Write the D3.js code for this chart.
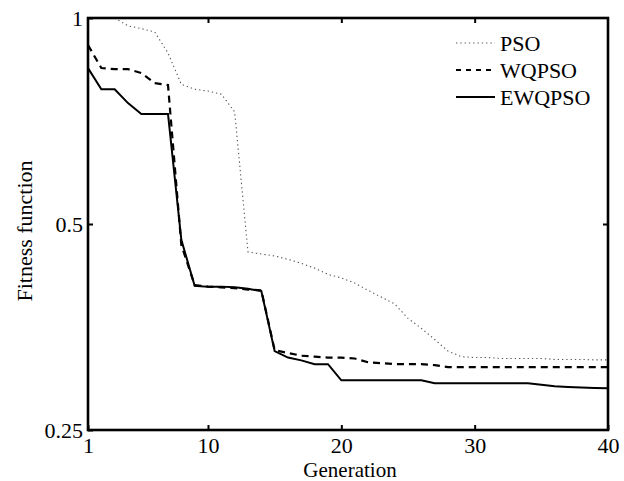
<!DOCTYPE html>
<html>
<head>
<meta charset="utf-8">
<script src="https://cdn.jsdelivr.net/npm/d3@7"></script>
<style>
  html, body { margin: 0; padding: 0; background: #fff; }
  svg { display: block; }
  text { font-family: "Liberation Serif", "DejaVu Serif", serif; fill: #000; }
</style>
</head>
<body>
<svg id="chart" width="624" height="481"></svg>
<script>
// ---- data ----
const generations = [1,2,3,4,5,6,7,8,9,10,11,12,13,14,15,16,17,18,19,20,
                     21,22,23,24,25,26,27,28,29,30,31,32,33,34,35,36,37,38,39,40];
const psoValues = [1.12, 1.06, 1.0, 0.974, 0.965, 0.954, 0.889, 0.800, 0.787, 0.782,
                   0.774, 0.729, 0.455, 0.452, 0.449, 0.444, 0.438, 0.431, 0.422, 0.417,
                   0.410, 0.400, 0.391, 0.382, 0.364, 0.352, 0.339, 0.326, 0.320, 0.319,
                   0.319, 0.318, 0.318, 0.318, 0.318, 0.317, 0.317, 0.317, 0.3165, 0.3165];
const wqpsoValues = [0.913, 0.845, 0.842, 0.842, 0.831, 0.803, 0.798, 0.466, 0.407, 0.405,
                     0.404, 0.403, 0.401, 0.400, 0.327, 0.324, 0.321, 0.320, 0.319, 0.319,
                     0.318, 0.314, 0.313, 0.312, 0.312, 0.312, 0.311, 0.309, 0.309, 0.309,
                     0.309, 0.309, 0.309, 0.309, 0.309, 0.309, 0.309, 0.309, 0.309, 0.309];
const ewqpsoValues = [0.845, 0.787, 0.787, 0.751, 0.724, 0.724, 0.724, 0.474, 0.406, 0.405,
                      0.405, 0.404, 0.402, 0.399, 0.326, 0.319, 0.316, 0.312, 0.312, 0.2955,
                      0.2955, 0.2955, 0.2955, 0.2955, 0.2955, 0.2955, 0.2925, 0.2925, 0.2925, 0.2925,
                      0.2925, 0.2925, 0.2925, 0.2925, 0.291, 0.2896, 0.289, 0.2885, 0.288, 0.2876];
const seriesNames = ["PSO", "WQPSO", "EWQPSO"];
const xTicks = [1, 10, 20, 30, 40];
const yTicks = [0.25, 0.5, 1];
const yTickLabels = ["0.25", "0.5", "1"];
const xLabel = "Generation";
const yLabel = "Fitness function";

(function () {
// ---- layout ----
const pL = 88, pR = 608, pT = 18, pB = 430;
const svg = d3.select("#chart");
const FONT = '"Liberation Serif", "DejaVu Serif", serif';

const x = d3.scaleLinear().domain([1, 40]).range([pL, pR]);
const y = d3.scaleLog().base(2).domain([0.25, 1]).range([pB, pT]);

svg.append("defs").append("clipPath").attr("id", "plotclip")
  .append("rect").attr("x", pL).attr("y", pT)
  .attr("width", pR - pL).attr("height", pB - pT);

const styles = [
  { dash: "1.3,3", width: 1.1, color: "#555" },
  { dash: "7,5", width: 2.2, color: "#000" },
  { dash: null, width: 2.0, color: "#000" }
];
const allSeries = [psoValues, wqpsoValues, ewqpsoValues];

const line = d3.line().x((d, i) => x(generations[i])).y(d => y(d));

const plot = svg.append("g").attr("clip-path", "url(#plotclip)");
allSeries.forEach((vals, k) => {
  plot.append("path")
    .datum(vals)
    .attr("d", line)
    .attr("fill", "none")
    .attr("stroke", styles[k].color)
    .attr("stroke-width", styles[k].width)
    .attr("stroke-dasharray", styles[k].dash)
    .attr("stroke-linejoin", "miter");
});

// ---- axes ----
const fs = 22;
const labelFmt = v => yTickLabels[yTicks.indexOf(v)];

const gB = svg.append("g").attr("transform", `translate(0,${pB})`)
  .call(d3.axisBottom(x).tickValues(xTicks).tickSizeInner(-5).tickSizeOuter(0).tickPadding(7).tickFormat(d3.format("d")));
const gT = svg.append("g").attr("transform", `translate(0,${pT})`)
  .call(d3.axisTop(x).tickValues(xTicks.slice(1, -1)).tickSizeInner(-5).tickSizeOuter(0).tickFormat(""));
const gL = svg.append("g").attr("transform", `translate(${pL},0)`)
  .call(d3.axisLeft(y).tickValues(yTicks).tickSizeInner(-5).tickSizeOuter(0).tickPadding(5).tickFormat(labelFmt));
const gR = svg.append("g").attr("transform", `translate(${pR},0)`)
  .call(d3.axisRight(y).tickValues([0.5]).tickSizeInner(-5).tickSizeOuter(0).tickFormat(""));

[gB, gT, gL, gR].forEach(g => {
  g.attr("font-family", null).attr("font-size", null);
  g.select(".domain").remove();
  g.selectAll(".tick line").attr("stroke", "#000").attr("stroke-width", 2);
  g.selectAll(".tick text")
    .style("font-family", FONT)
    .style("font-size", fs + "px").attr("fill", "#000");
});

svg.append("rect")
  .attr("x", pL).attr("y", pT)
  .attr("width", pR - pL).attr("height", pB - pT)
  .attr("fill", "none").attr("stroke", "#000").attr("stroke-width", 2.6);

// ---- axis labels ----
svg.append("text")
  .attr("x", (pL + pR) / 2 + 2).attr("y", 476.5)
  .attr("text-anchor", "middle").style("font-family", FONT).style("font-size", "21px")
  .text(xLabel);
svg.append("text")
  .attr("transform", `translate(32,${231}) rotate(-90)`)
  .attr("text-anchor", "middle").style("font-family", FONT).style("font-size", fs + "px")
  .text(yLabel);

// ---- legend ----
const legend = svg.append("g");
const legY = [43, 70, 97];
seriesNames.forEach((name, k) => {
  legend.append("line")
    .attr("x1", 456).attr("x2", 495)
    .attr("y1", legY[k]).attr("y2", legY[k])
    .attr("stroke", styles[k].color)
    .attr("stroke-width", styles[k].width)
    .attr("stroke-dasharray", k === 1 ? "5,5" : styles[k].dash);
  legend.append("text")
    .attr("x", 500).attr("y", legY[k] + 7.5)
    .style("font-family", FONT).style("font-size", fs + "px")
    .text(name);
});
})();
</script>
</body>
</html>
